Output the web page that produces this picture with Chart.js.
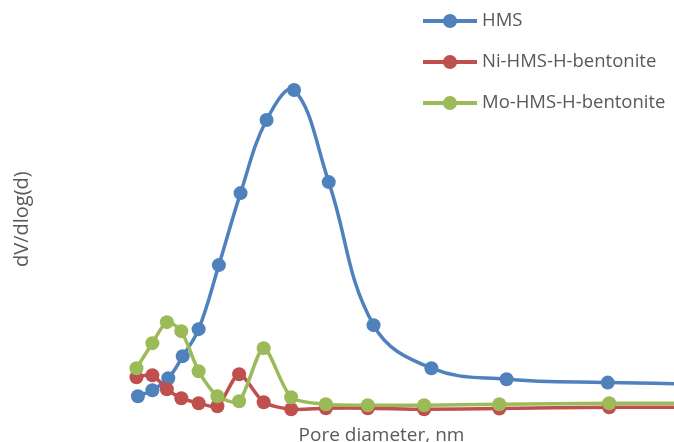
<!DOCTYPE html>
<html>
<head>
<meta charset="utf-8">
<script src="https://cdn.jsdelivr.net/npm/chart.js@4"></script>
<style>
  html, body { margin:0; padding:0; background:#fff; }
  #wrap { position:relative; width:674px; height:442px; overflow:hidden; }
  #legend { position:absolute; left:423px; top:0; font-family:'Open Sans', sans-serif; font-size:18.5px; color:#595959; }
  .item { position:absolute; left:0; height:20px; white-space:nowrap; }
  .swatch { position:absolute; left:0; top:9px; width:54px; height:3.5px; }
  .dot { position:absolute; left:19.5px; top:-5.5px; width:14px; height:14px; border-radius:50%; }
  .lbl { position:absolute; left:59px; top:-4px; line-height:26px; }
</style>
</head>
<body>
<div id="wrap">
  <canvas id="psd" width="674" height="442"></canvas>
  <div id="legend"></div>
</div>
<script>
// pore diameters (nm)
const xHMS = [2.9, 3.9, 5.0, 6.0, 7.1, 8.5, 10.0, 11.8, 13.7, 16.1, 19.2, 23.2, 28.4, 35.4, 43.2];
const xComp = [2.8, 3.9, 4.9, 5.9, 7.1, 8.4, 9.9, 11.6, 13.5, 15.9, 18.8, 22.7, 27.9, 35.5, 43.2];

// dV/dlog(d)
const hms = [0.08, 0.11, 0.17, 0.28, 0.415, 0.735, 1.095, 1.46, 1.61, 1.15, 0.435, 0.22, 0.165, 0.148, 0.14];
const niHms = [0.175, 0.185, 0.115, 0.07, 0.045, 0.03, 0.19, 0.05, 0.015, 0.02, 0.02, 0.015, 0.018, 0.025, 0.025];
const moHms = [0.22, 0.345, 0.45, 0.405, 0.205, 0.08, 0.055, 0.32, 0.075, 0.04, 0.035, 0.035, 0.04, 0.045, 0.045];

const names = ['HMS', 'Ni-HMS-H-bentonite', 'Mo-HMS-H-bentonite'];
const colors = ['#4F81BD', '#C0504D', '#9BBB59'];

const FONT = "'Open Sans', sans-serif";
const GREY = '#595959';

const pts = (xs, ys) => xs.map((x, i) => ({ x: x, y: ys[i] }));

function ds(i, data, tension, order){
  return {
    label: names[i], data, order,
    borderColor: colors[i], backgroundColor: colors[i],
    borderWidth: 3.5, pointRadius: 7, pointBorderWidth: 0,
    pointHoverRadius: 7, tension, clip: false
  };
}

const chart = new Chart(document.getElementById('psd'), {
  type: 'line',
  data: {
    datasets: [
      ds(0, pts(xHMS, hms), 0.4, 3),
      ds(1, pts(xComp, niHms), 0.25, 2),
      ds(2, pts(xComp, moHms), 0.25, 1)
    ]
  },
  options: {
    responsive: false, animation: false,
    layout: { padding: { top: 26, left: 0, right: 0, bottom: 0 } },
    plugins: { legend: { display: false }, tooltip: { enabled: false } },
    scales: {
      x: {
        type: 'linear', min: 0, max: 39.5,
        grid: { display: false, drawTicks: false }, border: { display: false },
        ticks: { display: false },
        title: { display: true, text: 'Pore diameter, nm', color: GREY,
                 font: { family: FONT, size: 19 }, padding: { top: 12, bottom: -5 } }
      },
      y: {
        min: 0, max: 1.93,
        grid: { display: false, drawTicks: false }, border: { display: false },
        ticks: { display: false },
        title: { display: true, text: 'dV/dlog(d)', color: GREY,
                 font: { family: FONT, size: 20 }, padding: { top: 10, bottom: 0 } },
        afterFit(scale){ scale.width = 96; }
      }
    }
  }
});

// legend
const leg = document.getElementById('legend');
names.forEach((n, i) => {
  const it = document.createElement('div');
  it.className = 'item';
  it.style.top = (10 + i * 41) + 'px';
  it.innerHTML = '<div class="swatch" style="background:' + colors[i] + '"><div class="dot" style="background:' + colors[i] + '"></div></div><span class="lbl">' + n + '</span>';
  leg.appendChild(it);
});
</script>
</body>
</html>
